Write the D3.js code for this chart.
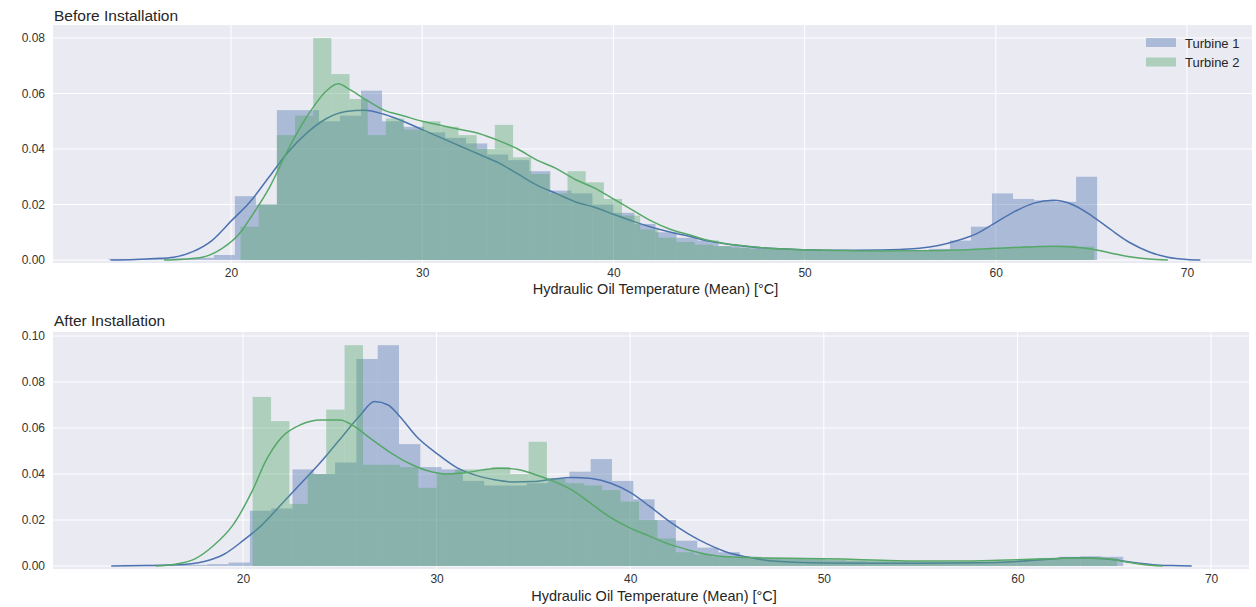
<!DOCTYPE html>
<html><head><meta charset="utf-8">
<script src="https://cdn.jsdelivr.net/npm/d3@7"></script>
<style>
body{margin:0;background:#fff}
svg{display:block}
text{font-family:"Liberation Sans",Arial,sans-serif;fill:#262626}
</style>
</head><body>
<svg id="c" width="1256" height="607"></svg>
<script>
// ---------------- data ----------------
const seriesNames = ["Turbine 1", "Turbine 2"];
const xTicks = [20, 30, 40, 50, 60, 70];
const yTicksBefore = [0, 0.02, 0.04, 0.06, 0.08];
const yTicksAfter = [0, 0.02, 0.04, 0.06, 0.08, 0.10];
const xLabel = "Hydraulic Oil Temperature (Mean) [°C]";

// Before installation – histogram bins (first edge, bin width, densities)
const beforeT1Start = 13.6, beforeT1Width = 1.1;
const beforeT1Hist = [0.0004,0.0004,0.0005,0.0006,0.0008,0.0018,
  0.023,0.020,0.054,0.054,0.050,0.052,0.061,0.050,0.048,0.046,
  0.044,0.042,0.038,0.036,0.032,0.025,0.024,0.020,0.017,0.013,
  0.010,0.008,0.007,0.005,0.0045,0.004,0.0038,0.0035,0.0035,0.0033,
  0.0033,0.0033,0.0035,0.004,0.007,0.012,0.024,0.022,0.0215,0.021,0.030];
const beforeT2Start = 20.5, beforeT2Width = 0.95;
const beforeT2Hist = [0.012,0.020,0.045,0.052,0.080,0.067,0.058,0.045,0.051,0.047,
  0.050,0.048,0.045,0.040,0.0487,0.037,0.031,0.024,0.032,0.028,
  0.022,0.016,0.011,0.008,0.0065,0.0055,0.005,0.0045,0.004,0.004,
  0.0037,0.0035,0.0033,0.0032,0.003,0.003,0.003,0.003,0.0032,0.0035,
  0.0038,0.004,0.0045,0.005,0.005,0.0052,0.0048];
// Before installation – KDE curves [temperature, density]
const beforeT1Kde = [[13.7,0],[15,0.0002],[16,0.0005],[17,0.001],[18,0.003],[19,0.007],[20,0.014],[21,0.021],[22,0.030],[23,0.039],[24,0.046],[25,0.051],[26,0.0535],[27,0.054],[28,0.0525],[29,0.050],[30,0.047],[31,0.044],[32,0.041],[33,0.038],[34,0.035],[35,0.031],[36,0.027],[37,0.024],[38,0.021],[39,0.019],[40,0.0165],[41,0.014],[42,0.0118],[43,0.010],[44,0.0085],[45,0.0068],[46,0.0057],[47,0.0049],[48,0.0043],[49,0.004],[50,0.0037],[52,0.0035],[54,0.0036],[55,0.0038],[56,0.0042],[57,0.0052],[58,0.007],[59,0.0095],[60,0.0135],[61,0.0175],[62,0.0205],[63,0.0215],[64,0.020],[65,0.016],[66,0.011],[67,0.0063],[68,0.003],[69,0.001],[70,0.0002],[70.7,0]];
const beforeT2Kde = [[16.5,0],[17.5,0.0003],[18.5,0.001],[19.5,0.004],[20.5,0.010],[21,0.015],[22,0.026],[23,0.040],[24,0.052],[25,0.061],[25.6,0.0635],[26.2,0.0615],[27,0.058],[28,0.054],[29,0.052],[30,0.050],[31,0.0485],[32,0.047],[33,0.0455],[34,0.043],[35,0.040],[36,0.036],[37,0.033],[38,0.029],[39,0.026],[40,0.022],[41,0.018],[42,0.014],[43,0.011],[44,0.009],[45,0.007],[46,0.0058],[47,0.005],[48,0.0043],[50,0.0037],[52,0.0034],[54,0.0032],[56,0.0033],[58,0.0036],[60,0.0042],[62,0.0048],[63,0.005],[64,0.0047],[65,0.004],[66,0.0025],[67,0.0012],[68,0.0004],[69,0]];

// After installation – histogram bins
const afterT1Start = 13.76, afterT1Width = 1.1;
const afterT1Hist = [0.0005,0.0005,0.0005,0.0005,0.0008,0.0015,
  0.024,0.025,0.042,0.040,0.045,0.090,0.096,0.053,0.043,0.042,
  0.037,0.035,0.035,0.036,0.038,0.041,0.0465,0.037,0.029,0.020,
  0.011,0.008,0.006,0.004,0.0035,0.003,0.003,0.0025,0.0022,0.002,
  0.002,0.0018,0.0018,0.0018,0.0018,0.002,0.0028,0.0035,0.004,0.0042,0.004];
const afterT2Start = 20.5, afterT2Width = 0.95;
const afterT2Hist = [0.0735,0.063,0.027,0.040,0.068,0.096,0.044,0.044,0.043,0.034,
  0.040,0.042,0.042,0.043,0.040,0.054,0.038,0.036,0.035,0.033,
  0.028,0.020,0.012,0.006,0.005,0.004,0.0035,0.0035,0.0035,0.0035,
  0.003,0.003,0.0028,0.0025,0.0022,0.002,0.002,0.0018,0.0018,0.002,
  0.0022,0.0025,0.003,0.0035,0.0038,0.004,0.0035];
// After installation – KDE curves
const afterT1Kde = [[13.2,0],[15,0.0002],[16.5,0.0005],[18,0.002],[19,0.005],[20,0.011],[21,0.018],[22,0.027],[23,0.036],[24,0.045],[25,0.055],[26,0.065],[26.8,0.0715],[27.5,0.070],[28,0.066],[29,0.056],[30,0.049],[31,0.043],[32,0.0395],[33,0.0375],[34,0.0365],[35,0.0367],[36,0.0378],[37,0.0385],[38,0.038],[39,0.036],[40,0.032],[41,0.026],[42,0.0195],[43,0.014],[44,0.0095],[45,0.006],[46,0.004],[47,0.0025],[48,0.0018],[50,0.0013],[52,0.0012],[55,0.0012],[58,0.0014],[60,0.002],[62,0.0032],[63,0.0036],[64,0.0034],[65,0.0027],[66,0.0015],[67,0.0006],[68,0.0002],[69,0]];
const afterT2Kde = [[15.5,0],[16.5,0.0008],[17.5,0.003],[18.5,0.009],[19.5,0.018],[20.5,0.033],[21.2,0.046],[22,0.056],[23,0.0615],[24,0.0635],[25,0.0635],[25.7,0.061],[26.5,0.056],[27.5,0.050],[28.5,0.045],[29.5,0.0415],[30.5,0.040],[31.5,0.0405],[32.5,0.042],[33.3,0.0425],[34.2,0.042],[35,0.040],[36,0.037],[37,0.033],[38,0.027],[39,0.021],[40,0.0165],[41,0.013],[42,0.0095],[43,0.007],[44,0.005],[45,0.004],[47,0.0035],[49,0.0033],[51,0.003],[53,0.0025],[55,0.0022],[57,0.0022],[59,0.0025],[61,0.003],[63,0.0035],[64.5,0.0033],[65.5,0.002],[66.5,0.0007],[67.5,0]];

// ---------------- drawing ----------------
const COLORS = ["#4C72B0", "#55A868"];
const BG = "#EAEAF2";
const svg = d3.select("#c");

function histBins(start, width, heights) {
  return heights.map((h, i) => ({x0: start + i * width, x1: start + (i + 1) * width, h}));
}

function panel(cfg, idx) {
  const x = d3.scaleLinear().domain(cfg.xDomain).range([cfg.left, cfg.right]);
  const y = d3.scaleLinear().domain(cfg.yDomain).range([cfg.bottom, cfg.top]);
  const g = svg.append("g");
  g.append("rect").attr("x", cfg.left).attr("y", cfg.top)
    .attr("width", cfg.right - cfg.left).attr("height", cfg.bottom - cfg.top).attr("fill", BG);
  g.append("g").selectAll("line").data(xTicks).join("line")
    .attr("x1", d => x(d)).attr("x2", d => x(d)).attr("y1", cfg.top).attr("y2", cfg.bottom)
    .attr("stroke", "#fff").attr("stroke-width", 1);
  g.append("g").selectAll("line").data(cfg.yTicks).join("line")
    .attr("y1", d => y(d)).attr("y2", d => y(d)).attr("x1", cfg.left).attr("x2", cfg.right)
    .attr("stroke", "#fff").attr("stroke-width", 1);

  const clipId = "clip" + idx;
  svg.append("clipPath").attr("id", clipId).append("rect")
    .attr("x", cfg.left).attr("y", cfg.top).attr("width", cfg.right - cfg.left).attr("height", cfg.bottom - cfg.top);
  const plot = g.append("g").attr("clip-path", `url(#${clipId})`);
  const line = d3.line().x(d => x(d[0])).y(d => y(d[1])).curve(d3.curveMonotoneX);

  cfg.series.forEach((s, si) => {
    plot.append("g").selectAll("rect").data(histBins(s.start, s.width, s.hist)).join("rect")
      .attr("x", d => x(d.x0)).attr("width", d => x(d.x1) - x(d.x0))
      .attr("y", d => y(d.h)).attr("height", d => y(0) - y(d.h))
      .attr("fill", COLORS[si]).attr("fill-opacity", 0.4);
    plot.append("path").datum(s.kde).attr("d", line)
      .attr("fill", "none").attr("stroke", COLORS[si]).attr("stroke-width", 1.5);
  });

  const xa = g.append("g").attr("transform", `translate(0,${cfg.bottom})`)
    .call(d3.axisBottom(x).tickValues(xTicks).tickSize(0).tickPadding(5).tickFormat(d3.format("d")));
  xa.select(".domain").remove();
  xa.selectAll("text").attr("font-size", 12).style("fill", "#333");
  const ya = g.append("g").attr("transform", `translate(${cfg.left},0)`)
    .call(d3.axisLeft(y).tickValues(cfg.yTicks).tickSize(0).tickPadding(8).tickFormat(d3.format(".2f")));
  ya.select(".domain").remove();
  ya.selectAll("text").attr("font-size", 12).style("fill", "#333");

  g.append("text").attr("x", cfg.left + 1).attr("y", cfg.titleY).attr("font-size", 15.5).text(cfg.title);
  g.append("text").attr("x", (cfg.left + cfg.right) / 2 + 3).attr("y", cfg.labelY)
    .attr("text-anchor", "middle").attr("font-size", 14.5).text(xLabel);

  if (cfg.legend) {
    const lg = g.append("g");
    seriesNames.forEach((n, i) => {
      lg.append("rect").attr("x", 1146).attr("y", 38 + i * 19.5).attr("width", 30).attr("height", 9)
        .attr("fill", COLORS[i]).attr("fill-opacity", 0.4);
      lg.append("text").attr("x", 1185).attr("y", 47.5 + i * 19.5).attr("font-size", 13).text(n);
    });
  }
}

panel({
  title: "Before Installation", titleY: 21, labelY: 294,
  left: 53, right: 1252, top: 25, bottom: 263,
  xDomain: [10.69, 73.40], yDomain: [-0.00108, 0.08468],
  yTicks: yTicksBefore, legend: true,
  series: [
    {start: beforeT1Start, width: beforeT1Width, hist: beforeT1Hist, kde: beforeT1Kde},
    {start: beforeT2Start, width: beforeT2Width, hist: beforeT2Hist, kde: beforeT2Kde}
  ]
}, 0);

panel({
  title: "After Installation", titleY: 326, labelY: 601,
  left: 53, right: 1249, top: 332, bottom: 569,
  xDomain: [10.19, 71.96], yDomain: [-0.0013, 0.10174],
  yTicks: yTicksAfter, legend: false,
  series: [
    {start: afterT1Start, width: afterT1Width, hist: afterT1Hist, kde: afterT1Kde},
    {start: afterT2Start, width: afterT2Width, hist: afterT2Hist, kde: afterT2Kde}
  ]
}, 1);
</script>
</body></html>
